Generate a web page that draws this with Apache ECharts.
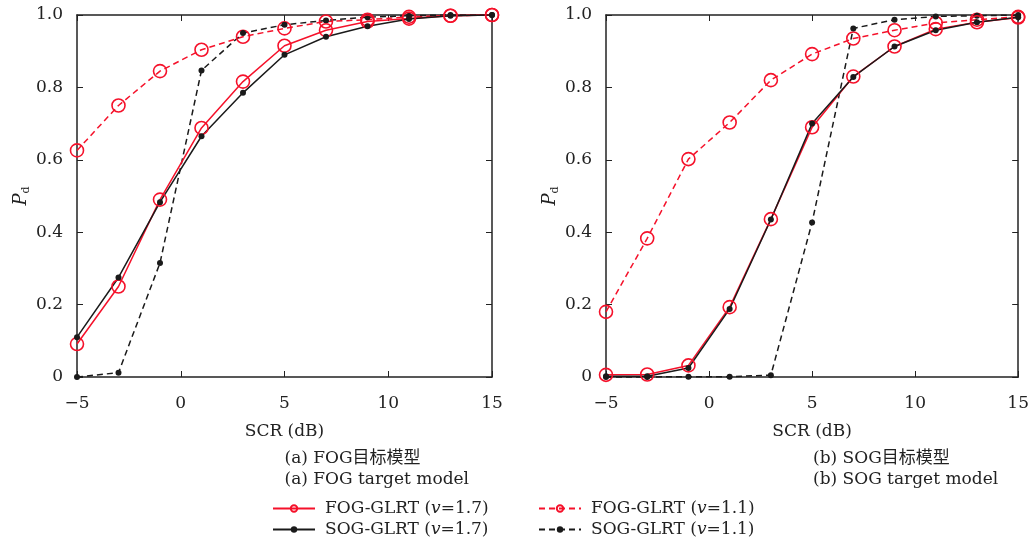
<!DOCTYPE html>
<html>
<head>
<meta charset="utf-8">
<script src="https://cdn.jsdelivr.net/npm/echarts@6/dist/echarts.min.js"></script>
<style>html,body{margin:0;padding:0;background:#fff}#c{width:1032px;height:540px}</style>
</head>
<body>
<div id="c"></div>
<script>
// ---- data ----
const xVals = [-5, -3, -1, 1, 3, 5, 7, 9, 11, 13, 15];
const xTicks = [-5, 0, 5, 10, 15];
const yTicks = [0, 0.2, 0.4, 0.6, 0.8, 1.0];

// (a) FOG target model
const fog17A = [0.091, 0.25, 0.49, 0.688, 0.816, 0.915, 0.958, 0.982, 0.99, 0.998, 1.0];
const sog17A = [0.11, 0.275, 0.483, 0.665, 0.785, 0.89, 0.94, 0.969, 0.989, 0.998, 1.0];
const fog11A = [0.626, 0.75, 0.845, 0.904, 0.94, 0.963, 0.982, 0.987, 0.995, 0.998, 1.0];
const sog11A = [0.0, 0.012, 0.315, 0.847, 0.95, 0.973, 0.985, 0.994, 0.998, 1.0, 1.0];

// (b) SOG target model
const fog17B = [0.006, 0.007, 0.032, 0.193, 0.436, 0.69, 0.83, 0.913, 0.961, 0.98, 0.993];
const sog17B = [0.002, 0.002, 0.025, 0.188, 0.435, 0.70, 0.829, 0.913, 0.958, 0.98, 0.994];
const fog11B = [0.18, 0.383, 0.602, 0.703, 0.82, 0.892, 0.935, 0.958, 0.978, 0.987, 0.995];
const sog11B = [0.0, 0.0, 0.001, 0.001, 0.005, 0.427, 0.963, 0.987, 0.996, 0.998, 1.0];

const names = ['FOG-GLRT (v=1.7)', 'SOG-GLRT (v=1.7)', 'FOG-GLRT (v=1.1)', 'SOG-GLRT (v=1.1)'];
const captionsCN = ['(a) FOG目标模型', '(b) SOG目标模型'];
const captionsEN = ['(a) FOG target model', '(b) SOG target model'];
const xName = 'SCR (dB)';

// ---- styles ----
const RED = '#f5112a';
const BLK = '#1a1a1a';
const FONT = '"DejaVu Serif", "Liberation Serif", "Noto Sans CJK SC", serif';
const AX = '#222';

const grids = [
  { left: 77, right: 540, top: 15, bottom: 163 },
  { left: 606, right: 12, top: 15, bottom: 163 }
];

function xFmt(v) { return String(v).replace('-', '\u2212'); }
function yFmt(v) { return v === 0 ? '0' : v.toFixed(1); }

const xAxes = [], yAxes = [];
grids.forEach((g, i) => {
  xAxes.push({
    gridIndex: i, type: 'value', min: -5, max: 15, interval: 5, position: 'bottom',
    name: xName, nameLocation: 'middle', nameGap: 46,
    nameTextStyle: { fontFamily: FONT, fontSize: 17, color: '#222' },
    axisLine: { onZero: false, lineStyle: { color: AX, width: 1.5 } },
    axisTick: { inside: true, length: 6, lineStyle: { color: AX } },
    axisLabel: { fontFamily: FONT, fontSize: 17, color: '#222', margin: 18, formatter: xFmt },
    splitLine: { show: false }
  });
  xAxes.push({
    gridIndex: i, type: 'value', min: -5, max: 15, interval: 5, position: 'top',
    axisLine: { onZero: false, lineStyle: { color: AX, width: 1.5 } },
    axisTick: { inside: true, length: 6, lineStyle: { color: AX } },
    axisLabel: { show: false }, splitLine: { show: false }
  });
  yAxes.push({
    gridIndex: i, type: 'value', min: 0, max: 1, interval: 0.2, position: 'left',
    name: '{p|P}{s|d}', nameLocation: 'middle', nameGap: 44, nameRotate: 90,
    nameTextStyle: {
      rich: {
        p: { fontFamily: FONT, fontStyle: 'italic', fontSize: 18, color: '#222', lineHeight: 22 },
        s: { fontFamily: FONT, fontSize: 11, color: '#222', lineHeight: 14, verticalAlign: 'bottom', padding: [6, 0, 0, 0] }
      }
    },
    axisLine: { onZero: false, lineStyle: { color: AX, width: 1.5 } },
    axisTick: { inside: true, length: 6, lineStyle: { color: AX } },
    axisLabel: { fontFamily: FONT, fontSize: 17, color: '#222', margin: 14, formatter: yFmt },
    splitLine: { show: false }
  });
  yAxes.push({
    gridIndex: i, type: 'value', min: 0, max: 1, interval: 0.2, position: 'right',
    axisLine: { onZero: false, lineStyle: { color: AX, width: 1.5 } },
    axisTick: { inside: true, length: 6, lineStyle: { color: AX } },
    axisLabel: { show: false }, splitLine: { show: false }
  });
});

function pairs(arr) { return xVals.map((x, k) => [x, arr[k]]); }

function mkSeries(name, arr, gi, red, dashed) {
  return {
    name: name, type: 'line', xAxisIndex: gi * 2, yAxisIndex: gi * 2,
    data: pairs(arr), clip: false, animation: false,
    symbol: 'circle', symbolSize: red ? 13 : 6, showAllSymbol: true,
    lineStyle: { color: red ? RED : BLK, width: 1.5, type: dashed ? [6, 4] : 'solid' },
    itemStyle: red ? { color: 'rgba(255,255,255,0)', borderColor: RED, borderWidth: 1.6 } : { color: BLK, borderColor: BLK, borderWidth: 0 },
    emphasis: { disabled: true }
  };
}

const series = [
  mkSeries(names[2], fog11A, 0, true, true),
  mkSeries(names[3], sog11A, 0, false, true),
  mkSeries(names[0], fog17A, 0, true, false),
  mkSeries(names[1], sog17A, 0, false, false),
  mkSeries(names[2], fog11B, 1, true, true),
  mkSeries(names[3], sog11B, 1, false, true),
  mkSeries(names[0], fog17B, 1, true, false),
  mkSeries(names[1], sog17B, 1, false, false)
];

function legendFmt(n) {
  const m = n.match(/^(.*\()v(=.*)$/);
  return '{t|' + m[1] + '}{i|v}{t|' + m[2] + '}';
}
const legendText = {
  fontFamily: FONT, fontSize: 17, color: '#222',
  rich: {
    t: { fontFamily: FONT, fontSize: 17, color: '#222' },
    i: { fontFamily: FONT, fontSize: 17, fontStyle: 'italic', color: '#222' }
  }
};
const legendPos = [[272, 500], [272, 521], [538, 500], [538, 521]];
const legends = names.map((n, k) => ({
  data: [n], orient: 'horizontal', left: legendPos[k][0], top: legendPos[k][1],
  itemWidth: 42, itemHeight: 8, padding: 0, itemGap: 0,
  formatter: legendFmt, textStyle: Object.assign({ padding: [0, 0, 0, 5] }, legendText), selectedMode: false
}));

const graphics = [];
grids.forEach((g, i) => {
  const cx = i === 0 ? (77 + 492) / 2 : (606 + 1020) / 2;
  graphics.push({ type: 'text', left: cx, top: 450, style: { text: captionsCN[i], font: '17px ' + FONT, fill: '#222', textAlign: 'center' } });
  graphics.push({ type: 'text', left: cx, top: 471, style: { text: captionsEN[i], font: '17px ' + FONT, fill: '#222', textAlign: 'center' } });
});

const option = {
  backgroundColor: '#fff',
  animation: false,
  grid: grids,
  xAxis: xAxes,
  yAxis: yAxes,
  legend: legends,
  graphic: graphics,
  series: series
};

const chart = echarts.init(document.getElementById('c'), null, { renderer: 'canvas' });
chart.setOption(option);
</script>
</body>
</html>
